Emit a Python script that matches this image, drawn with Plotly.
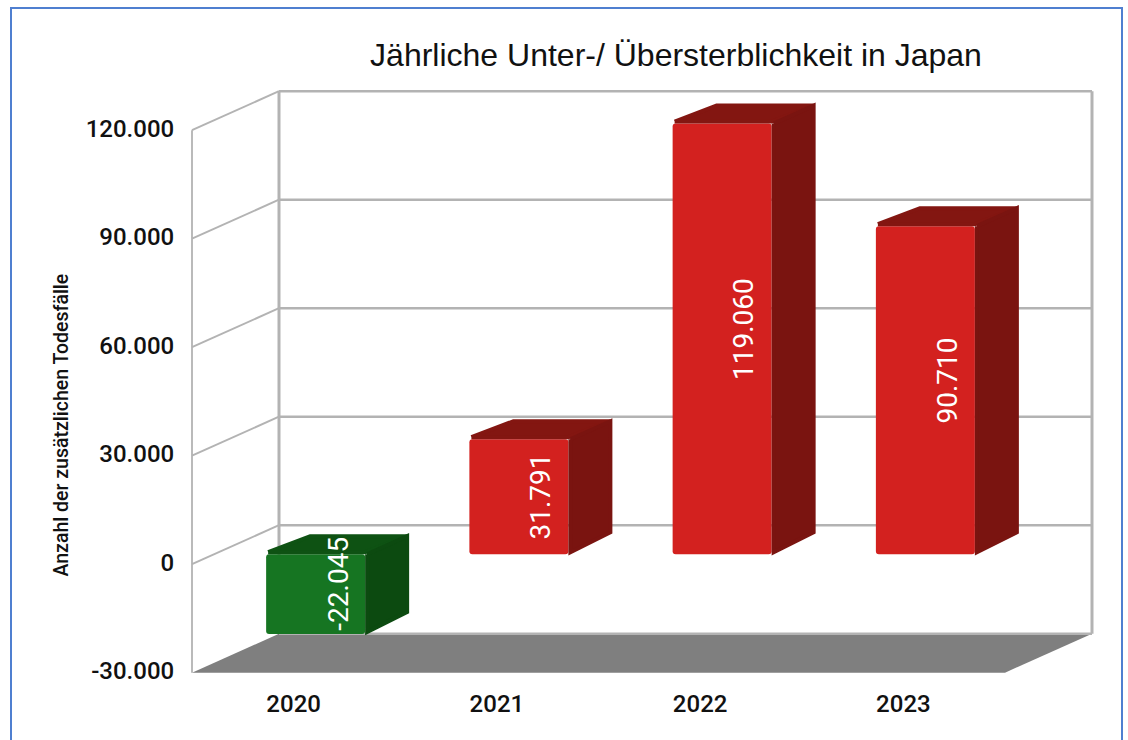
import plotly.graph_objects as go

# --- data ---
years = ["2020", "2021", "2022", "2023"]
excess_deaths = [-22045, 31791, 119060, 90710]
value_labels = ["-22.045", "31.791", "119.060", "90.710"]
y_ticks = [-30000, 0, 30000, 60000, 90000, 120000]
y_tick_labels = ["-30.000", "0", "30.000", "60.000", "90.000", "120.000"]
title_text = "Jährliche Unter-/ Übersterblichkeit in Japan"
y_title = "Anzahl der zusätzlichen Todesfälle"

# --- styling / geometry ---
W, H = 1128, 740
L, R, T, B = 186, 1098, 84, 679          # plot area in page pixels
X0_PX, YMIN_PX = 192, 672.7              # where x=0 and the lowest tick sit
NARROW = "Roboto"
GRID = "#b3b3b3"
unit_px = 203.25            # horizontal pixels per category
val_per_px = 30000 / 108.5  # axis value per vertical pixel
DX = 87 / unit_px           # depth of the box, x axis units
DY = 39 * val_per_px        # depth of the box, y axis units
BAR_W = 99 / unit_px
BX = 44 / unit_px           # depth of a bar
BY = 20 * val_per_px
OX = 22 / unit_px           # distance from front plane to bar front
OY = 10 * val_per_px
INX, INY = 2 / unit_px, 2 * val_per_px  # inset that lets round stroke joins keep the outline
x_range = [(L - X0_PX) / unit_px, (R - X0_PX) / unit_px]
ymin = y_ticks[0]
y_range = [ymin + (YMIN_PX - B) * val_per_px, ymin + (YMIN_PX - T) * val_per_px]
xpos = [i + 0.5 for i in range(len(years))]
front = {True: "#d3211f", False: "#167522"}
top_c = {True: "#831611", False: "#0e5213"}
side_c = {True: "#7a1410", False: "#0c4a10"}


def seg(x0, y0, x1, y1, w=2.0, color=GRID):
    return dict(type="line", xref="x", yref="y", x0=x0, y0=y0, x1=x1, y1=y1,
                layer="below", line=dict(color=color, width=w))


shapes = []
# floor
nx = len(years)
shapes.append(dict(type="path", xref="x", yref="y", layer="below", fillcolor="#7f7f7f",
                   line=dict(width=0),
                   path=f"M0,{ymin} L{nx},{ymin} L{nx+DX},{ymin+DY} L{DX},{ymin+DY} Z"))
# walls and grid lines
for t in y_ticks:
    shapes.append(seg(DX, t + DY, nx + DX, t + DY, 2.5))
    if t != ymin:
        shapes.append(seg(0, t, DX, t + DY, 2.0))
shapes.append(seg(0, ymin, 0, y_ticks[-1], 1.8))
shapes.append(seg(DX, ymin + DY, DX, y_ticks[-1] + DY, 3))
shapes.append(seg(nx + DX, ymin + DY, nx + DX, y_ticks[-1] + DY, 3))
# blue page frame (paper coordinates)
px = lambda v: (v - L) / (R - L)
py = lambda v: (B - v) / (B - T)
shapes.append(dict(type="path", xref="paper", yref="paper", layer="below",
                   line=dict(color="#4f7fd0", width=2),
                   path=f"M{px(11)},{py(760)} L{px(11)},{py(8)} L{px(1122)},{py(8)} L{px(1122)},{py(760)}"))

fig = go.Figure()

# front faces of the bars
fig.add_trace(go.Bar(
    x=[x + OX for x in xpos], y=excess_deaths, base=[OY] * nx, width=BAR_W,
    marker=dict(color=[front[v > 0] for v in excess_deaths], cornerradius=3,
                line=dict(width=0)),
    hoverinfo="skip", showlegend=False))

# top and side faces of the bars
for x, v in zip(xpos, excess_deaths):
    pos = v > 0
    xl, xr = x + OX - BAR_W / 2, x + OX + BAR_W / 2
    y_hi, y_lo = OY + max(v, 0), OY + min(v, 0)
    tx = [xl + INX, xl + BX, xr + BX - INX, xr, xl + INX]
    ty = [y_hi + INY, y_hi + BY - INY, y_hi + BY - INY, y_hi + INY, y_hi + INY]
    fig.add_trace(go.Scatter(
        x=tx, y=ty, mode="lines", fill="toself", fillcolor=top_c[pos],
        line=dict(color=top_c[pos], width=4), hoverinfo="skip", showlegend=False))
    sx = [xr + INX, xr + BX - INX, xr + BX - INX, xr + INX, xr + INX]
    sy = [y_hi, y_hi + BY - INY, y_lo + BY + INY, y_lo + INY, y_hi]
    fig.add_trace(go.Scatter(
        x=sx, y=sy, mode="lines", fill="toself", fillcolor=side_c[pos],
        line=dict(color=side_c[pos], width=4), hoverinfo="skip", showlegend=False))

annotations = [
    dict(text=lab, x=x + OX + BX / 2, y=OY + BY / 2 + v / 2, xref="x", yref="y",
         textangle=-90, showarrow=False, font=dict(family=NARROW, size=28, color="white"),
         yshift=shift)
    for x, v, lab, shift in zip(xpos, excess_deaths, value_labels, [0, -10, 0, 0])
]
annotations.append(dict(text=y_title, x=px(47), y=py(425), xref="paper", yref="paper",
                        textangle=-90, showarrow=False,
                        font=dict(family=NARROW, size=19.5, weight=500, color="#111111")))

fig.update_layout(
    width=W, height=H, autosize=False,
    margin=dict(l=L, r=W - R, t=T, b=H - B, pad=0),
    paper_bgcolor="white", plot_bgcolor="white",
    showlegend=False, shapes=shapes, annotations=annotations,
    title=dict(text=title_text, x=676 / W, xanchor="center", y=1 - 55 / H, yanchor="middle",
               font=dict(family="Liberation Sans", size=32, color="#111111")),
    xaxis=dict(range=x_range, tickmode="array", tickvals=xpos, ticktext=years,
               showgrid=False, zeroline=False, showline=False, ticks="outside",
               ticklen=3, tickcolor="rgba(0,0,0,0)",
               tickfont=dict(family=NARROW, size=24, weight=500, color="#111111")),
    yaxis=dict(range=y_range, tickmode="array", tickvals=y_ticks, ticktext=y_tick_labels,
               showgrid=False, zeroline=False, showline=False, ticks="outside",
               ticklen=6, tickcolor="rgba(0,0,0,0)", ticklabelshift=-2,
               tickfont=dict(family=NARROW, size=24, weight=500, color="#111111")),
)

fig.write_html("out.html", config={"displayModeBar": False},
               post_script="document.body.style.margin='0';document.body.style.overflow='hidden';")
